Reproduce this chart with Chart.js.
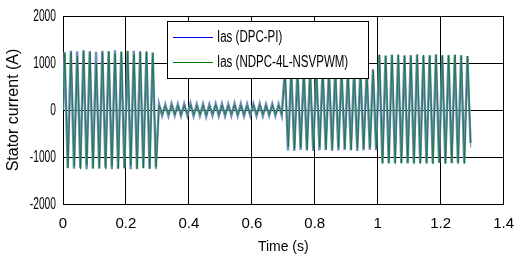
<!DOCTYPE html>
<html>
<head>
<meta charset="utf-8">
<script src="https://cdn.jsdelivr.net/npm/chart.js@4/dist/chart.umd.min.js"></script>
<style>
html,body{margin:0;padding:0;background:#fff;}
#wrap{position:relative;width:525px;height:259px;}
</style>
</head>
<body>
<div id="wrap"><canvas id="graph" width="525" height="259"></canvas></div>
<script>

// values: one peak and one trough per 50 Hz cycle (T = 0.02 s)
const period=0.02;
const segStarts=[0,0.3,0.7,1.0];

const bluePeaks=[
[1240,1260,1250,1270,1250,1240,1260,1250,1270,1240,1250,1260,1250,1240,1230],
[130,120,135,125,130,140,125,130,120,135,130,125,140,130,125,130,135,120,130,125],
[860,850,870,860,850,860,870,850,860,870,850,860,850,860,870],
[1170,1160,1180,1170,1160,1170,1180,1160,1170,1180,1160,1170,1170,1160,1150]
];
const blueTroughs=[
[-1230,-1250,-1240,-1260,-1240,-1250,-1230,-1260,-1250,-1240,-1260,-1250,-1240,-1250,-1220],
[-120,-130,-115,-125,-120,-130,-125,-140,-120,-125,-130,-120,-125,-130,-120,-125,-130,-120,-125,-120],
[-860,-870,-850,-860,-870,-860,-850,-870,-860,-850,-860,-870,-860,-850,-860],
[-1130,-1140,-1120,-1130,-1140,-1120,-1130,-1140,-1130,-1120,-1140,-1130,-1120,-1130,-700]
];
const greenPeaks=[
[1200,1230,1150,1260,1240,1000,1230,1250,1200,1240,1260,1180,1230,1250,1200],
[100,90,110,95,100,105,95,100,90,110,100,95,105,100,90,100,110,95,100,95],
[820,840,800,850,830,810,850,840,820,800,840,850,830,810,840],
[1180,1150,1170,1180,1160,1140,1180,1170,1150,1180,1170,1160,1180,1170,1150]
];
const greenTroughs=[
[-1240,-1200,-1260,-1180,-1250,-1230,-1260,-1200,-1250,-1240,-1180,-1260,-1230,-1250,-1260],
[-90,-100,-95,-105,-90,-100,-95,-110,-90,-100,-95,-90,-105,-100,-95,-100,-90,-95,-100,-90],
[-780,-830,-800,-840,-820,-790,-840,-830,-800,-820,-840,-810,-830,-800,-820],
[-1140,-1120,-1150,-1130,-1120,-1150,-1140,-1130,-1150,-1120,-1140,-1130,-1150,-1140,-800]
];

const seriesLabels=["Ias (DPC-PI)","Ias (NDPC-4L-NSVPWM)"];
const seriesColors=["#0000ff","#008000"];
const xTickLabels=["0","0.2","0.4","0.6","0.8","1","1.2","1.4"];
const yTickLabels=["-2000","-1000","0","1000","2000"];

function buildWave(peaks,troughs,shift){
let pts=[{x:0,y:0}];
for(let s=0;s<segStarts.length;s++){
for(let k=0;k<peaks[s].length;k++){
pts.push({x:segStarts[s]+(k+0.25)*period+shift,y:peaks[s][k]});
pts.push({x:segStarts[s]+(k+0.75)*period+shift,y:troughs[s][k]});
}
}
return pts;
}

const squeezeText={
id:"squeezeText",
afterDraw(c){
const ctx=c.ctx;
const ys=c.scales.y;
ctx.save();
ctx.fillStyle="#000";
ctx.font="16px Arial, 'Liberation Sans', sans-serif";
ctx.textAlign="right";
ctx.textBaseline="middle";
ys.ticks.forEach((t,i)=>{
const py=ys.getPixelForValue(t.value);
ctx.save();
ctx.translate(56,py+1);
ctx.scale(0.64,1);
ctx.fillText(yTickLabels[i],0,0);
ctx.restore();
});
// legend box over the data
const bx=167,by=21,bw=201,bh=57;
ctx.fillStyle="#fff";
ctx.fillRect(bx,by,bw,bh);
ctx.strokeStyle="#000";
ctx.lineWidth=1;
ctx.strokeRect(bx+0.5,by+0.5,bw,bh);
const rows=[37,62];
ctx.textAlign="left";
rows.forEach((ry,i)=>{
ctx.strokeStyle=seriesColors[i];
ctx.beginPath();
ctx.moveTo(173,ry+0.5);
ctx.lineTo(213,ry+0.5);
ctx.stroke();
ctx.fillStyle="#000";
ctx.save();
ctx.translate(217,ry+1);
ctx.scale(0.72,1);
ctx.fillText(seriesLabels[i],0,0);
ctx.restore();
});
ctx.restore();
}
};

const ctx=document.getElementById("graph");

new Chart(ctx,{
type:"line",
data:{
datasets:[
{
label:seriesLabels[0],
data:buildWave(bluePeaks,blueTroughs,0),
borderColor:"#6f8cbc",
borderWidth:2.4,
pointRadius:0,
tension:0,
order:1
},
{
label:seriesLabels[1],
data:buildWave(greenPeaks,greenTroughs,0.0008),
borderColor:"rgba(0,120,20,0.7)",
borderWidth:1,
pointRadius:0,
tension:0,
order:0
}
]
},
options:{
responsive:false,
animation:false,
layout:{padding:{top:16,right:18,left:0,bottom:0}},
plugins:{legend:{display:false},tooltip:{enabled:false}},
scales:{
x:{
type:"linear",
min:0,max:1.4,
afterFit:s=>{s.height=55;},
ticks:{stepSize:0.2,color:"#000",font:{family:"Arial",size:15},padding:11,maxRotation:0,
callback:(v,i)=>xTickLabels[i]},
grid:{color:"#000",drawTicks:false},
border:{color:"#000"},
title:{display:true,text:"Time (s)",color:"#000",font:{family:"Arial",size:14},padding:{top:0,bottom:3}}
},
y:{
min:-2000,max:2000,
afterFit:s=>{s.width=63;},
ticks:{stepSize:1000,display:false},
grid:{color:"#000",drawTicks:false},
border:{color:"#000"},
title:{display:true,text:"Stator current (A)",color:"#000",font:{family:"Arial",size:16},padding:{top:4,bottom:0}}
}
}
},
plugins:[squeezeText]
});

</script>
</body>
</html>
